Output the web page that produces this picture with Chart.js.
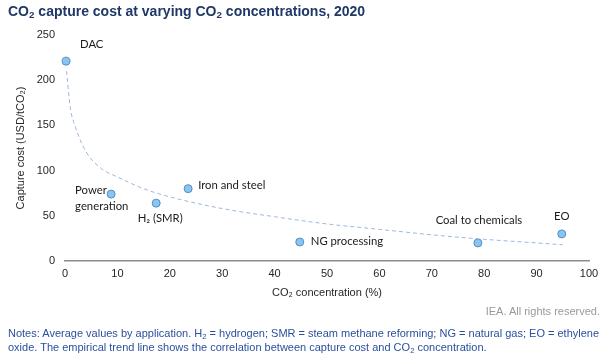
<!DOCTYPE html>
<html>
<head>
<meta charset="utf-8">
<script src="https://cdn.jsdelivr.net/npm/chart.js@4.4.1/dist/chart.umd.min.js"></script>
<style>
  html, body { margin:0; padding:0; background:#fff; }
  #wrap { position:relative; width:607px; height:357px; overflow:hidden; }
  #c { position:absolute; left:0; top:0; }
  .title { position:absolute; left:8px; top:3px; font:bold 14px "Liberation Sans", Arial, sans-serif; color:#1f3868; white-space:nowrap; }
  .rights { position:absolute; right:7px; top:305px; font:11px "Liberation Sans", Arial, sans-serif; color:#9a9a9a; }
  .notes { position:absolute; left:8px; top:326px; width:600px; font:11px "Liberation Sans", Arial, sans-serif; color:#2b4f9e; line-height:14px; }
  sub { font-size:70%; vertical-align:-0.25em; line-height:0; }
</style>
</head>
<body>
<div id="wrap">
  <canvas id="c" width="607" height="357"></canvas>
  <div class="title">CO<sub>2</sub> capture cost at varying CO<sub>2</sub> concentrations, 2020</div>
  <div class="rights">IEA. All rights reserved.</div>
  <div class="notes">Notes: Average values by application. H<sub>2</sub> = hydrogen; SMR = steam methane reforming; NG = natural gas; EO = ethylene oxide. The empirical trend line shows the correlation between capture cost and CO<sub>2</sub> concentration.</div>
</div>
<script>
// ---- data ----
const categories = ["DAC", "Power generation", "H₂ (SMR)", "Iron and steel", "NG processing", "Coal to chemicals", "EO"];
const concentration = [0.2, 8.8, 17.4, 23.5, 44.8, 78.8, 94.8];
const captureCost = [221, 74, 64, 80, 21, 20, 30];
const trendX = [0.3, 1, 2, 4, 7, 10, 15, 20, 30, 40, 50, 60, 70, 80, 90, 95];
const trendY = [210, 170, 148, 121, 102, 93, 80, 71, 58, 49, 41, 35, 29, 24, 20, 18];
const xTicks = [0, 10, 20, 30, 40, 50, 60, 70, 80, 90, 100];
const yTicks = [0, 50, 100, 150, 200, 250];

// ---- label styling (offsets in px, alignment) ----
const labelStyle = [
  { lines: ["DAC"], dx: 14, dy: -17, align: "left" },
  { lines: ["Power", "generation"], dx: -36, dy: -4, align: "left" },
  { lines: ["H₂ (SMR)"], dx: 4, dy: 15, align: "center" },
  { lines: ["Iron and steel"], dx: 10, dy: -3, align: "left" },
  { lines: ["NG processing"], dx: 11, dy: -1, align: "left" },
  { lines: ["Coal to chemicals"], dx: 1, dy: -23, align: "center" },
  { lines: ["EO"], dx: 0, dy: -18, align: "center" }
];

const pointLabels = {
  id: "pointLabels",
  afterDatasetsDraw(chart) {
    const meta = chart.getDatasetMeta(1);
    const ctx = chart.ctx;
    ctx.save();
    ctx.font = '11.3px Lato, "Open Sans", sans-serif';
    ctx.fillStyle = "#1a1a1a";
    ctx.textBaseline = "middle";
    meta.data.forEach((pt, i) => {
      const s = labelStyle[i];
      ctx.textAlign = s.align;
      s.lines.forEach((ln, k) => {
        ctx.fillText(ln, pt.x + s.dx, pt.y + s.dy + k * 16);
      });
    });
    ctx.restore();
  }
};

Chart.defaults.font.family = '"Liberation Sans", Arial, sans-serif';
Chart.defaults.font.size = 11;
Chart.defaults.color = "#262626";

new Chart(document.getElementById("c"), {
  type: "scatter",
  data: {
    datasets: [
      {
        label: "Trend",
        data: trendX.map((x, i) => ({ x, y: trendY[i] })),
        showLine: true,
        borderColor: "#9fb8db",
        borderWidth: 1,
        borderDash: [4, 3],
        pointRadius: 0,
        cubicInterpolationMode: "monotone",
        fill: false,
        clip: false
      },
      {
        label: "Capture cost",
        data: concentration.map((x, i) => ({ x, y: captureCost[i] })),
        backgroundColor: "#8cc4ee",
        borderColor: "#4d8fc9",
        borderWidth: 1,
        pointRadius: 4,
        clip: false
      }
    ]
  },
  options: {
    responsive: false,
    animation: false,
    layout: { padding: { left: 0, top: 35, right: 18, bottom: 57 } },
    plugins: { legend: { display: false }, tooltip: { enabled: false } },
    scales: {
      x: {
        type: "linear",
        min: 0, max: 100,
        afterBuildTicks(s) { s.ticks = xTicks.map(v => ({ value: v })); },
        afterFit(s) { s.height = 39; },
        grid: { display: false, drawOnChartArea: false, drawTicks: true, tickLength: 4, color: "#8c8c8c" },
        border: { display: true, color: "#8c8c8c", width: 1.5 },
        ticks: { padding: 2, color: "#262626", font: { size: 11 } },
        title: { display: true, text: "CO₂ concentration (%)", color: "#262626", font: { size: 11 }, padding: { top: 3, bottom: 0 } }
      },
      y: {
        type: "linear",
        min: 0, max: 250,
        afterBuildTicks(s) { s.ticks = yTicks.map(v => ({ value: v })); },
        afterFit(s) { s.width = 65; },
        grid: { display: false, drawTicks: false },
        border: { display: false },
        ticks: { padding: 10, color: "#262626", font: { size: 11 } },
        title: { display: true, text: "Capture cost (USD/tCO₂)", color: "#262626", font: { size: 11 }, padding: { top: 14, bottom: 0 } }
      }
    }
  },
  plugins: [pointLabels]
});
</script>
</body>
</html>
